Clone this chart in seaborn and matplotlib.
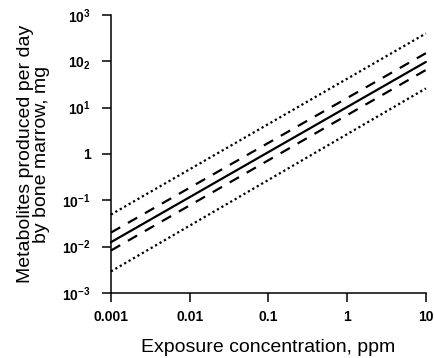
import matplotlib
matplotlib.use("Agg")
import matplotlib.pyplot as plt
import seaborn as sns
import pandas as pd

# Data
exposure_ppm = [0.001, 10]
upper_dotted = [0.049, 400]
upper_dashed = [0.020, 150]
central = [0.0124, 97]
lower_dashed = [0.0082, 65]
lower_dotted = [0.0029, 26]

x_ticks = [0.001, 0.01, 0.1, 1, 10]
x_tick_labels = ["0.001", "0.01", "0.1", "1", "10"]
y_ticks = [1e-3, 1e-2, 1e-1, 1, 1e1, 1e2, 1e3]
y_tick_labels = [r"$\mathbf{10^{-3}}$", r"$\mathbf{10^{-2}}$", r"$\mathbf{10^{-1}}$", "1",
                 r"$\mathbf{10^{1}}$", r"$\mathbf{10_{2}}$", r"$\mathbf{10^{3}}$"]

sns.set_theme(style="ticks")
plt.rcParams["font.family"] = ["Liberation Sans", "DejaVu Sans"]
plt.rcParams["mathtext.fontset"] = "custom"
plt.rcParams["mathtext.rm"] = "Liberation Sans"
plt.rcParams["mathtext.it"] = "Liberation Sans"
plt.rcParams["mathtext.bf"] = "Liberation Sans:bold"

fig = plt.figure(figsize=(4.35, 3.58), dpi=100)
ax = fig.add_axes([0.255, 0.182, 0.724, 0.776])

series = [
    (upper_dotted, (0, (1.0, 1.3))),
    (upper_dashed, (0, (4.8, 4.0))),
    (central, "-"),
    (lower_dashed, (0, (4.8, 4.0))),
    (lower_dotted, (0, (1.0, 1.3))),
]
for vals, ls in series:
    df = pd.DataFrame({"x": exposure_ppm, "y": vals})
    sns.lineplot(data=df, x="x", y="y", ax=ax, color="black", linewidth=1.6,
                 linestyle=ls, legend=False)

ax.set_xscale("log")
ax.set_yscale("log")
ax.set_xlim(0.001, 10)
ax.set_ylim(1e-3, 1e3)
ax.set_xticks(x_ticks)
ax.set_xticklabels(x_tick_labels)
ax.set_yticks(y_ticks)
ax.set_yticklabels(y_tick_labels)
ax.minorticks_off()
for line in ax.lines:
    line.set_clip_on(False)

for s in ["top", "right"]:
    ax.spines[s].set_visible(False)
for s in ["left", "bottom"]:
    ax.spines[s].set_linewidth(1.1)
    ax.spines[s].set_color("black")
ax.tick_params(axis="both", length=6.5, width=1.1, color="black", labelsize=10,
               labelcolor="black")
ax.tick_params(axis="y", pad=8)
ax.tick_params(axis="x", pad=6)
for lab in ax.get_xticklabels() + ax.get_yticklabels():
    lab.set_fontweight("bold")

ax.set_xlabel("Exposure concentration, ppm", fontsize=14, labelpad=11, color="black")
ax.set_ylabel("Metabolites produced per day\nby bone marrow, mg", fontsize=14,
              labelpad=9, color="black", linespacing=0.95)

fig.savefig("out.png", dpi=100)
